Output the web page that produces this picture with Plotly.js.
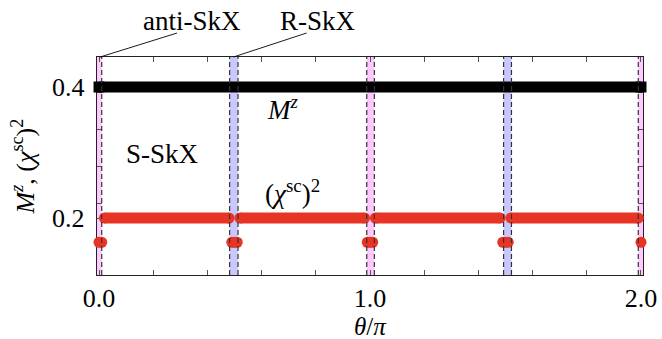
<!DOCTYPE html>
<html>
<head>
<meta charset="utf-8">
<script src="https://cdn.plot.ly/plotly-3.0.1.min.js"></script>
<style>html,body{margin:0;padding:0;background:#fff;}#chart{width:662px;height:339px;}</style>
</head>
<body>
<div id="chart"></div>
<script>
// ---- data ----
const thetaTicks = [0, 0.2, 0.4, 0.6, 0.8, 1.0, 1.2, 1.4, 1.6, 1.8, 2.0];
const thetaTickText = ['0.0', '', '', '', '', '1.0', '', '', '', '', '2.0'];
const mTicks = [0.1664, 0.2, 0.2224, 0.2783, 0.3354, 0.3913, 0.4];
const mTickText = ['', '0.2', '', '', '', '', '0.4'];

const mzTheta = [0, 2];
const mzValue = [0.4, 0.4];

const chiUpperTheta = [0.02, 0.48, null, 0.52, 0.98, null, 1.02, 1.48, null, 1.52, 1.99];
const chiUpperValue = [0.2, 0.2, null, 0.2, 0.2, null, 0.2, 0.2, null, 0.2, 0.2];

const chiLowerTheta = [0, 0.01, 0.49, 0.5, 0.51, 0.99, 1.0, 1.01, 1.49, 1.5, 1.51, 2.0];
const chiLowerValue = [0.163, 0.163, 0.163, 0.163, 0.163, 0.163, 0.163, 0.163, 0.163, 0.163, 0.163, 0.163];

// phase boundary bands: [start, end, phase]
const bandStart = [-0.01, 0.482, 0.988, 1.493, 1.99];
const bandEnd   = [0.01, 0.513, 1.016, 1.522, 2.01];
const bandPhase = ['anti', 'R', 'anti', 'R', 'anti'];

// ---- build ----
const FONT = '"Liberation Serif", "DejaVu Serif", serif';
const bandColor = {anti: 'rgb(255,200,255)', R: 'rgb(200,200,255)'};
const shapes = [];
for (let i = 0; i < bandStart.length; i++) {
  shapes.push({type: 'rect', xref: 'x', yref: 'paper', x0: bandStart[i], x1: bandEnd[i], y0: 0, y1: 1,
    fillcolor: bandColor[bandPhase[i]], line: {width: 0}, layer: 'below'});
}
for (let i = 0; i < bandStart.length; i++) {
  [bandStart[i], bandEnd[i]].forEach(function (x) {
    shapes.push({type: 'line', xref: 'x', yref: 'paper', x0: x, x1: x, y0: 0, y1: 1,
      line: {color: '#333', width: 1.2, dash: '5px,3px'}, layer: 'above'});
  });
}
// leader lines for labels above the frame
shapes.push({type: 'line', xref: 'x', yref: 'paper', x0: 0.004, y0: 1, x1: 0.288, y1: 1.11, line: {color: '#000', width: 0.9}});
shapes.push({type: 'line', xref: 'x', yref: 'paper', x0: 0.496, y0: 1, x1: 0.766, y1: 1.11, line: {color: '#000', width: 0.9}});

const RED = 'rgb(232,52,36)';
const traces = [
  {x: mzTheta, y: mzValue, mode: 'lines+markers', line: {color: '#000', width: 11},
   marker: {color: '#000', size: 11, symbol: 'square'}, cliponaxis: false, hoverinfo: 'skip'},
  {x: chiUpperTheta, y: chiUpperValue, mode: 'lines+markers', line: {color: RED, width: 11},
   marker: {color: RED, size: 11}, cliponaxis: false, connectgaps: false, hoverinfo: 'skip'},
  {x: chiLowerTheta, y: chiLowerValue, mode: 'markers',
   marker: {color: RED, size: 11}, cliponaxis: false, hoverinfo: 'skip'}
];

const layout = {
  width: 662, height: 339,
  margin: {l: 97, r: 19, t: 57, b: 64},
  paper_bgcolor: '#fff', plot_bgcolor: '#fff',
  showlegend: false,
  font: {family: FONT, size: 26, color: '#000'},
  xaxis: {
    range: [-0.0074, 2.0074], tickvals: thetaTicks, ticktext: thetaTickText,
    ticks: 'inside', ticklen: 5, tickwidth: 1, tickcolor: '#555',
    showline: true, linecolor: '#222', linewidth: 1.2, mirror: 'ticks',
    showgrid: false, zeroline: false, layer: 'below traces',
    tickfont: {family: FONT, size: 26}, ticklabelstandoff: 0
  },
  yaxis: {
    range: [0.113, 0.4458], tickvals: mTicks, ticktext: mTickText,
    ticks: 'inside', ticklen: 5, tickwidth: 1, tickcolor: '#555',
    showline: true, linecolor: '#222', linewidth: 1.2, mirror: 'ticks',
    showgrid: false, zeroline: false, layer: 'below traces',
    tickfont: {family: FONT, size: 26}, ticklabelstandoff: 6,
    title: {text: '<i>M</i><sup><i>z</i></sup>, (<i>χ</i><sup>sc</sup>)<sup>2</sup>', font: {family: FONT, size: 26}, standoff: 10}
  },
  shapes: shapes,
  annotations: [
    {text: '<i>θ</i>/<i>π</i>', xref: 'paper', yref: 'paper', x: 0.5, y: -0.165, showarrow: false, xanchor: 'center', yanchor: 'top', font: {family: FONT, size: 25}},
    {text: 'anti-SkX', xref: 'x', yref: 'paper', x: 0.343, y: 1.165, showarrow: false, xanchor: 'center', yanchor: 'middle', font: {family: FONT, size: 27}},
    {text: 'R-SkX', xref: 'x', yref: 'paper', x: 0.808, y: 1.165, showarrow: false, xanchor: 'center', yanchor: 'middle', font: {family: FONT, size: 27}},
    {text: '<i>M</i><sup><i>z</i></sup>', xref: 'x', yref: 'y', x: 0.679, y: 0.368, showarrow: false, xanchor: 'center', yanchor: 'middle', font: {family: FONT, size: 27}},
    {text: 'S-SkX', xref: 'x', yref: 'y', x: 0.236, y: 0.2977, showarrow: false, xanchor: 'center', yanchor: 'middle', font: {family: FONT, size: 27}},
    {text: '(<i>χ</i><sup>sc</sup>)<sup>2</sup>', xref: 'x', yref: 'y', x: 0.714, y: 0.2397, showarrow: false, xanchor: 'center', yanchor: 'middle', font: {family: FONT, size: 27}}
  ]
};

Plotly.newPlot('chart', traces, layout, {displayModeBar: false, staticPlot: true});
</script>
</body>
</html>
